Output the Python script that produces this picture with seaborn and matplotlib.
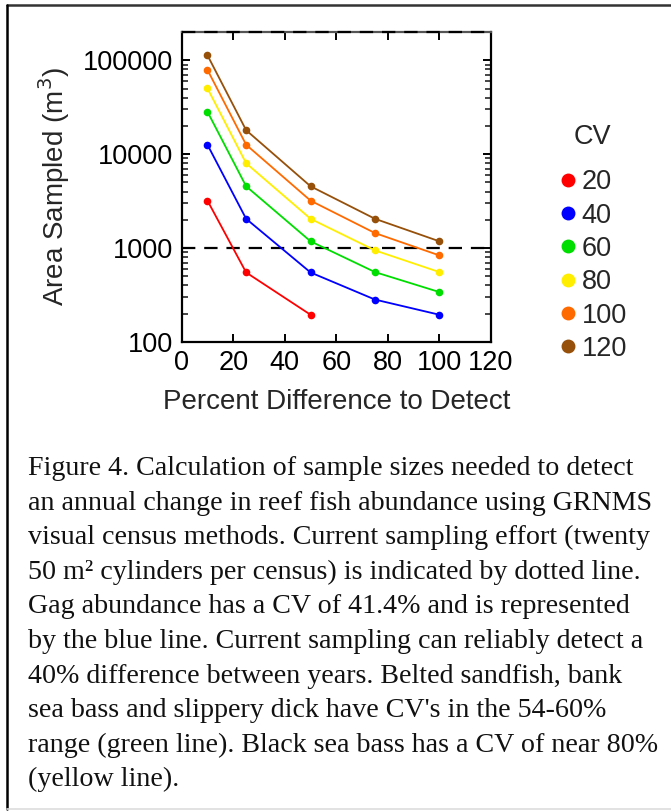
import numpy as np
import pandas as pd
import matplotlib
matplotlib.use("Agg")
import matplotlib.pyplot as plt
from matplotlib.lines import Line2D
from matplotlib.ticker import FixedLocator, LogLocator, FuncFormatter, NullFormatter
import seaborn as sns

# Percent difference to detect (x) and area sampled (m^3) per CV level
pct_diff = [10, 25, 50, 75, 100]
cv_levels = [20, 40, 60, 80, 100, 120]
area_cv20 = [3200, 550, 195]
area_cv40 = [12600, 2050, 550, 283, 195]
area_cv60 = [28300, 4550, 1180, 555, 340]
area_cv80 = [50200, 8000, 2050, 945, 555]
area_cv100 = [79000, 12600, 3200, 1445, 835]
area_cv120 = [113000, 18000, 4550, 2050, 1180]
current_effort = 1000

series = [area_cv20, area_cv40, area_cv60, area_cv80, area_cv100, area_cv120]
colors = ["#FF0000", "#0000FF", "#00DD00", "#FFEE00", "#FF6A00", "#96500A"]
palette = dict(zip(cv_levels, colors))

rows = []
for cv, vals in zip(cv_levels, series):
    for x, y in zip(pct_diff, vals):
        rows.append({"pct": x, "area": y, "CV": cv})
df = pd.DataFrame(rows)

caption_lines = [
    "Figure 4. Calculation of sample sizes needed to detect",
    "an annual change in reef fish abundance using GRNMS",
    "visual census methods. Current sampling effort (twenty",
    "50 m\u00b2 cylinders per census) is indicated by dotted line.",
    "Gag abundance has a CV of 41.4% and is represented",
    "by the blue line. Current sampling can reliably detect a",
    "40% difference between years. Belted sandfish, bank",
    "sea bass and slippery dick have CV's in the 54-60%",
    "range (green line). Black sea bass has a CV of near 80%",
    "(yellow line).",
]

sns.set_style("ticks")
plt.rcParams["font.family"] = ["Liberation Sans", "DejaVu Sans"]

W, H = 671, 811
fig = plt.figure(figsize=(W / 100, H / 100), dpi=100)
fig.patch.set_facecolor("white")

ax = fig.add_axes([181.7 / W, 1 - 342 / H, (491 - 181.7) / W, (342 - 32) / H])
sns.lineplot(data=df, x="pct", y="area", hue="CV", palette=palette,
             marker="o", markersize=5.5, markeredgewidth=0, linewidth=1.3,
             legend=False, ax=ax, sort=False)

ax.set_yscale("log")
ax.set_xlim(0, 120)
ax.set_ylim(100, 200000)
ax.axhline(current_effort, color="black", lw=1.6, ls=(0, (6, 4)), zorder=1)

ax.xaxis.set_major_locator(FixedLocator([0, 20, 40, 60, 80, 100, 120]))
ax.yaxis.set_major_locator(FixedLocator([100, 1000, 10000, 100000]))
ax.yaxis.set_minor_locator(LogLocator(base=10, subs=np.arange(2, 10)))
ax.yaxis.set_minor_formatter(NullFormatter())
ax.yaxis.set_major_formatter(FuncFormatter(lambda v, p: f"{int(round(v))}"))

ax.tick_params(axis="both", which="major", direction="in", length=6, width=1.4,
               labelsize=19.5, top=True, right=True, pad=6, colors="black")
ax.tick_params(axis="y", which="minor", direction="in", length=4, width=1.2,
               left=True, right=True)

for side in ["left", "right", "bottom"]:
    ax.spines[side].set_linewidth(1.6)
    ax.spines[side].set_color("black")
ax.spines["top"].set_linewidth(1.6)
ax.spines["top"].set_color("#555555")
ax.axhline(200000, color="black", lw=1.6, ls=(0, (6, 4)), clip_on=False, zorder=5)

ax.set_xlabel("Percent Difference to Detect", fontsize=20, labelpad=9)
ax.set_ylabel("Area Sampled (m$^3$)", fontsize=20, labelpad=8)
ax.grid(False)

handles = [Line2D([], [], marker="o", ls="", color=c, markersize=10, markeredgewidth=0)
           for c in colors]
leg = fig.legend(handles, [str(c) for c in cv_levels], title="CV",
                 loc="upper left", bbox_to_anchor=(546 / W, 1 - 113 / H),
                 frameon=False, fontsize=19.5, title_fontsize=19.5,
                 handletextpad=0.12, labelspacing=0.27, handlelength=0.8,
                 borderaxespad=0)
leg._legend_box.sep = 14

# caption block
y0 = 475
for i, line in enumerate(caption_lines):
    fig.text(28 / W, 1 - (y0 + i * 34.6) / H, line, fontsize=20.2,
             family=["Liberation Serif", "DejaVu Serif"], va="baseline", ha="left",
             color="#111111")

# page frame
fig.add_artist(Line2D([7 / W, 1], [1 - 5 / H, 1 - 5 / H], transform=fig.transFigure,
                      color="#333333", lw=1.8))
fig.add_artist(Line2D([7 / W, 7 / W], [1 - 5 / H, 1 - 809 / H], transform=fig.transFigure,
                      color="black", lw=1.8))
fig.add_artist(Line2D([7 / W, 1], [1 - 809 / H, 1 - 809 / H], transform=fig.transFigure,
                      color="#DDDDDD", lw=1.2))

fig.savefig("out.png", dpi=100)
